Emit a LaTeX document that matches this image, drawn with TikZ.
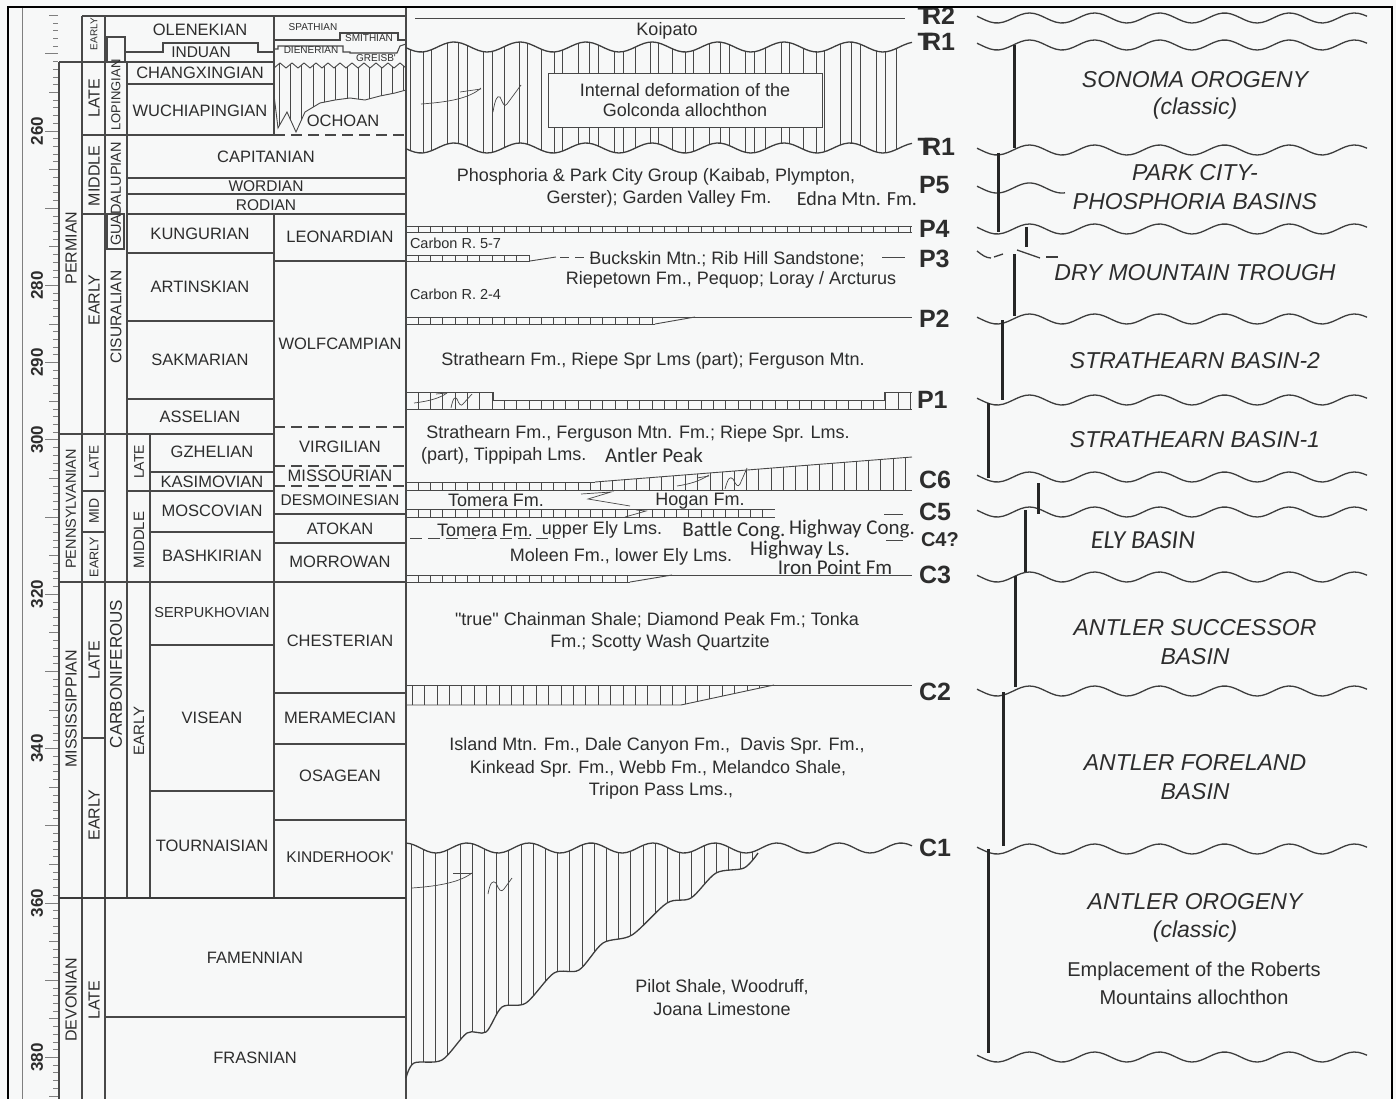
\documentclass[tikz,border=0pt]{standalone}
\usepackage{fontspec}
\setmainfont{Liberation Sans}[Ligatures=TeXOff]
\newfontfamily\calib{Carlito}
\definecolor{bg}{RGB}{247,248,248}
\definecolor{lc}{RGB}{72,72,72}
\definecolor{tc}{RGB}{45,45,45}
\newcommand\myfs[1]{\fontsize{#1}{#1}\selectfont}
\newcommand\TRs{\rlap{\kern-0.22em T}R}
\newcommand\mybrick[4]{%
  \draw[lhor] (#1,#3) -- (#2,#3) (#1,#4) -- (#2,#4);
  \pgfmathtruncatemacro\nbk{(#2-#1)/12.3}%
  \foreach \k in {0,...,\nbk}{\draw[lhor] ({#1+\k*12.3},#3) -- ({#1+\k*12.3},#4);}%
}
\newcommand\rwave[3]{\draw[lwave] plot[domain=#1:#2,samples=90] (\x,{#3+5*cos((\x-997)/65*360)});}
\begin{document}
\begin{tikzpicture}[x=1pt,y=-1pt,
  every node/.style={inner sep=0pt, outer sep=0pt, text=tc},
  lstage/.style={draw=lc, line width=1.1pt},
  ldash/.style={draw=lc, line width=1.1pt, dash pattern=on 11pt off 6pt},
  lthick/.style={draw=lc!80!black, line width=2.2pt},
  lhor/.style={draw=lc, line width=0.9pt},
  lhatch/.style={draw=lc, line width=0.6pt},
  lwave/.style={draw=lc!85!black, line width=1.3pt},
  lbar/.style={draw=black!85, line width=3pt},
  lfault/.style={draw=lc, line width=0.7pt},
  ltick/.style={draw=lc!70, line width=0.8pt},
  tstg/.style={font=\myfs{16.5}},
  tna/.style={font=\myfs{15.5}},
  tvert/.style={rotate=90, font=\myfs{16}},
  ttiny/.style={font=\myfs{10}},
  tmid/.style={font=\myfs{18}},
  tcal/.style={font=\calib\myfs{21}},
  thz/.style={font=\bfseries\myfs{25}, anchor=west},
  tbasin/.style={font=\itshape\myfs{23}},
  tnum/.style={rotate=90, font=\bfseries\myfs{17}}
]
\useasboundingbox (0,0) rectangle (1396,1099);
\fill[bg] (0,0) rectangle (1396,1099);

% ---------- scale ----------
\draw[ltick] (22,7) -- (22,1099);
\foreach \m in {245,...,385}{
  \pgfmathsetmacro\yy{131+(\m-260)*7.72}
  \pgfmathsetmacro\xs{ifthenelse(mod(\m,10)==0,45,ifthenelse(mod(\m,5)==0,49,53))}
  \draw[ltick] (\xs,\yy) -- (58,\yy);
}
\foreach \m in {260,280,290,300,320,340,360,380}
  \node[tnum] (n\m) at (37,{131+(\m-260)*7.72}) {\m};

% ---------- column lines ----------
\draw[lstage] (59,62) -- (59,1099);
\draw[lstage] (82,16) -- (82,1099);
\draw[lstage] (105,16) -- (105,1099);
\draw[lstage] (127,62) -- (127,898);
\draw[lstage] (150,434) -- (150,898);
\draw[lstage] (274,16) -- (274,135);
\draw[lstage] (274,214) -- (274,898);
\draw[lstage] (406,7) -- (406,1099);
% boxes Lopingian / Guadalupian
\draw[lstage] (107,62) -- (107,37) -- (125,37) -- (125,62);
\draw[lstage] (107,214) rectangle (124,249);

% ---------- horizontal lines ----------
\draw[lstage] (82,16) -- (406,16);
\draw[lstage] (59,62) -- (274,62);
\draw[lstage] (125,52) -- (163,52) -- (163,43) -- (258,43) -- (258,52) -- (274,52);
\draw[lstage] (127,84) -- (274,84);
\draw[lstage] (82,135) -- (274,135);
\draw[ldash] (274,135) -- (406,135);
\draw[lstage] (127,178) -- (406,178);
\draw[lstage] (127,194) -- (406,194);
\draw[lstage] (82,214) -- (105,214) (127,214) -- (406,214);
\draw[lstage] (127,253) -- (274,253);
\draw[lstage] (274,261) -- (406,261);
\draw[lstage] (127,321) -- (274,321);
\draw[lstage] (127,399) -- (274,399);
\draw[ldash] (274,427) -- (406,427);
\draw[lstage] (59,434) -- (274,434);
\draw[ldash] (274,466) -- (406,466);
\draw[lstage] (150,472) -- (274,472);
\draw[ldash] (274,486) -- (406,486);
\draw[lstage] (82,491) -- (105,491) (127,491) -- (274,491);
\draw[lstage] (274,514) -- (406,514);
\draw[lstage] (82,532) -- (105,532) (150,532) -- (274,532);
\draw[lstage] (274,543) -- (406,543);
\draw[lstage] (59,582) -- (406,582);
\draw[lstage] (150,645) -- (274,645);
\draw[lstage] (274,693) -- (406,693);
\draw[lstage] (82,738) -- (105,738);
\draw[lstage] (274,744) -- (406,744);
\draw[lstage] (150,791) -- (274,791);
\draw[lstage] (274,820) -- (406,820);
\draw[lthick] (59,898) -- (406,898);
\draw[lstage] (105,1017) -- (406,1017);

% Triassic right sub-column
\draw[lstage] (274,40) -- (340,40) -- (340,33) -- (398,33) -- (398,40) -- (406,40);
\draw[lstage] (274,49) -- (278,49) -- (278,46) -- (343,46) -- (343,52) -- (350,52) -- (350,53) -- (397,53) -- (400,46) -- (406,44);
% Ochoan hatch
\begin{scope}
\clip plot[domain=274:406,samples=23] (\x,{65.5+2.5*cos((\x-274)/12*360)}) -- (406,90) -- (395,93) -- (380,96) -- (365,100) -- (350,98) -- (335,100) -- (320,103) -- (305,112) -- (296,132) -- (287,112) -- (278,128) -- (274,95) -- cycle;
\foreach \xx in {279,290,301,313,324,335,347,358,369,381,392,403} \draw[lhatch] (\xx,55) -- (\xx,140);
\end{scope}
\draw[lhor] plot[domain=274:406,samples=23] (\x,{65.5+2.5*cos((\x-274)/12*360)});
\draw[lhor] (406,90) -- (395,93) -- (380,96) -- (365,100) -- (350,98) -- (335,100) -- (320,103) -- (305,112) -- (296,132) -- (287,112) -- (278,128) -- (274,95);

% ---------- stage texts ----------
\node[tstg] (s1) at (200,30) {OLENEKIAN};
\node[tna] (s2) at (201,52) {INDUAN};
\node[tstg] (s3) at (200,73) {CHANGXINGIAN};
\node[tstg] (s4) at (200,111) {WUCHIAPINGIAN};
\node[tstg] (s5) at (266,157) {CAPITANIAN};
\node[tna] (s6) at (266,186) {WORDIAN};
\node[tna] (s7) at (266,205) {RODIAN};
\node[tstg] (s8) at (200,234) {KUNGURIAN};
\node[tstg] (s9) at (200,287) {ARTINSKIAN};
\node[tstg] (s10) at (200,360) {SAKMARIAN};
\node[tstg] (s11) at (200,417) {ASSELIAN};
\node[tstg] (s12) at (340,237) {LEONARDIAN};
\node[tstg] (s13) at (340,344) {WOLFCAMPIAN};
\node[tstg] (s14) at (343,121) {OCHOAN};
\node[ttiny] (s15) at (313,27) {SPATHIAN};
\node[ttiny] (s16) at (369,38) {SMITHIAN};
\node[ttiny] (s17) at (311,50) {DIENERIAN};
\node[ttiny] (s18) at (376,58) {GREISB'};
\node[tstg] (s19) at (212,452) {GZHELIAN};
\node[tstg] (s20) at (212,482) {KASIMOVIAN};
\node[tstg] (s21) at (212,511) {MOSCOVIAN};
\node[tstg] (s22) at (212,556) {BASHKIRIAN};
\node[font=\myfs{14.5}] (s23) at (212,613) {SERPUKHOVIAN};
\node[tstg] (s24) at (212,718) {VISEAN};
\node[tstg] (s25) at (212,846) {TOURNAISIAN};
\node[tstg] (s26) at (340,447) {VIRGILIAN};
\node[tstg] (s27) at (340,476) {MISSOURIAN};
\node[tna] (s28) at (340,500) {DESMOINESIAN};
\node[tstg] (s29) at (340,529) {ATOKAN};
\node[tstg] (s30) at (340,562) {MORROWAN};
\node[tstg] (s31) at (340,641) {CHESTERIAN};
\node[tstg] (s32) at (340,718) {MERAMECIAN};
\node[tstg] (s33) at (340,776) {OSAGEAN};
\node[tna] (s34) at (340,857) {KINDERHOOK'};
\node[tstg] (s35) at (255,958) {FAMENNIAN};
\node[tstg] (s36) at (255,1058) {FRASNIAN};

% vertical labels
\node[tvert] (v1) at (71,248) {PERMIAN};
\node[tvert, font=\myfs{14.5}] (v2) at (71,509) {PENNSYLVANIAN};
\node[tvert] (v3) at (71,709) {MISSISSIPPIAN};
\node[tvert] (v4) at (71,1000) {DEVONIAN};
\node[tvert, font=\myfs{10}] (v5) at (94,34) {EARLY};
\node[tvert] (v6) at (94,98) {LATE};
\node[tvert] (v7) at (94,176) {MIDDLE};
\node[tvert] (v8) at (94,300) {EARLY};
\node[tvert, font=\myfs{13.5}] (v9) at (94,462) {LATE};
\node[tvert, font=\myfs{14}] (v10) at (94,511) {MID};
\node[tvert, font=\myfs{12.5}] (v11) at (94,557) {EARLY};
\node[tvert] (v12) at (94,660) {LATE};
\node[tvert] (v13) at (94,815) {EARLY};
\node[tvert] (v14) at (94,1000) {LATE};
\node[tvert, font=\myfs{13}] (v15) at (116,95) {LOPINGIAN};
\node[tvert, font=\myfs{14.5}] (v16) at (116,194) {GUADALUPIAN};
\node[tvert, font=\myfs{15.5}] (v17) at (116,317) {CISURALIAN};
\node[tvert, font=\myfs{17}] (v18) at (116,674) {CARBONIFEROUS};
\node[tvert, font=\myfs{14}] (v19) at (139,462) {LATE};
\node[tvert, font=\myfs{15}] (v20) at (139,540) {MIDDLE};
\node[tvert, font=\myfs{15}] (v21) at (139,731) {EARLY};

% ---------- middle column ----------
\draw[lhor] (415,18) -- (905,18);
\node[tmid] (m1) at (667,31) {Koipato};
\begin{scope}
\clip plot[domain=406:912,samples=120] (\x,{47+5*cos((\x-421)/66*360)}) -- plot[domain=912:406,samples=120] (\x,{148+5*cos((\x-421)/66*360)}) -- cycle;
\foreach \i in {0,...,42} \draw[lhatch] ({410+\i*11.9+2.5*sin(\i*131)},30) -- ++(0,135);
\end{scope}
\draw[lwave] plot[domain=406:912,samples=120] (\x,{47+5*cos((\x-421)/66*360)});
\draw[lwave] plot[domain=406:912,samples=120] (\x,{148+5*cos((\x-421)/66*360)});
\node[draw=lc, line width=0.9pt, fill=bg, minimum width=274pt, minimum height=54pt, align=center, font=\myfs{18}] (m2) at (685,100) {Internal deformation of the\\[2pt]Golconda allochthon};
\draw[lfault] (421,104) .. controls (450,102) and (470,98) .. (481,88);
\draw[lfault] (460,92) -- (481,89);
\draw[lfault] (493,112) .. controls (495,100) and (497,95) .. (500,97) .. controls (503,103) and (504,108) .. (507,104) -- (521,85);

\node[tmid] (m3) at (656,177) {Phosphoria \& Park City Group (Kaibab, Plympton,};
\node[tmid] (m4) at (659,199) {Gerster); Garden Valley Fm.};
\node[tcal, font=\calib\myfs{20}] (m5) at (857,199) {Edna Mtn. Fm.};
\mybrick{406}{912}{226}{232}
\node[font=\myfs{14.5}, anchor=west] (m6) at (410,243) {Carbon R. 5-7};
\mybrick{406}{530}{255}{261}
\draw[lhor] (530,261) -- (556,257);
\draw[lhor, dash pattern=on 9pt off 6pt] (560,257) -- (597,257);
\draw[lhor] (882,257) -- (905,257);
\node[tmid] (m7) at (727,259) {Buckskin Mtn.; Rib Hill Sandstone;};
\node[tmid] (m8) at (731,280) {Riepetown Fm., Pequop; Loray / Arcturus};
\node[font=\myfs{14.5}, anchor=west] (m9) at (410,294) {Carbon R. 2-4};
\draw[lhor] (406,317) -- (912,317);
\mybrick{406}{655}{317}{324}
\draw[lhor] (655,324) -- (695,317);
\node[tmid] (m10) at (653,361) {Strathearn Fm., Riepe Spr Lms (part); Ferguson Mtn.};
% P1
\draw[lhor] (406,392) -- (493,392) -- (493,400) -- (884,400) -- (884,392) -- (912,392);
\draw[lhor] (406,409) -- (912,409);
\foreach \i in {0,...,41}{
  \pgfmathsetmacro\hx{406+\i*12.3}
  \pgfmathsetmacro\hy{ifthenelse(\hx<493 || \hx>884,392,400)}
  \draw[lhor] (\hx,\hy) -- (\hx,409);
}
\draw[lfault] (414,403) .. controls (430,401) and (440,398) .. (447,393);
\draw[lfault] (436,394) -- (447,393);
\draw[lfault] (451,408) .. controls (453,398) and (455,396) .. (457,399) .. controls (459,404) and (461,407) .. (463,404) -- (472,394);
\node[tmid] (m11) at (638,434) {Strathearn Fm., Ferguson Mtn. Fm.; Riepe Spr. Lms.};
\node[tmid, anchor=west] (m12) at (421,456) {(part), Tippipah Lms.};
\node[tcal, anchor=west] (m13) at (605,455) {Antler Peak};
% C6
\mybrick{406}{595}{482}{490}
\draw[lhor] (595,482) -- (912,457);
\draw[lhor] (406,490) -- (912,490);
\foreach \i in {0,...,25}{
  \pgfmathsetmacro\hx{600+\i*12.2}
  \pgfmathsetmacro\hy{482-(\hx-595)*25/317}
  \draw[lhatch] (\hx,\hy) -- (\hx,490);
}
\draw[lfault] (677,486) .. controls (690,484) and (700,481) .. (709,475);
\draw[lfault] (697,478) -- (709,476);
\draw[lfault] (725,489) .. controls (728,478) and (730,476) .. (733,479) .. controls (736,485) and (738,488) .. (740,484) -- (747,468);
\node[tmid] (m14) at (496,500) {Tomera Fm.};
\draw[lfault] (581,494) -- (611,492) -- (588,499) -- (630,506);
\draw[lfault] (625,517) -- (646,511) -- (636,510);
\node[tmid] (m15) at (700,501) {Hogan Fm.};
% C5
\mybrick{406}{775}{509}{517}
\draw[lhor] (884,514) -- (903,514);
\node[tmid] (m16) at (485,530) {Tomera Fm.};
\node[tmid] (m17) at (602,530) {upper Ely Lms.};
\draw[lhor, dash pattern=on 12pt off 6pt] (410,538) -- (560,538);
\node[tcal] (m18) at (734,531) {Battle Cong.};
\node[tcal] (m19) at (852,529) {Highway Cong.};
\draw[lhor] (886,540) -- (903,540);
\node[tmid] (m20) at (621,557) {Moleen Fm., lower Ely Lms.};
\node[tcal] (m21) at (800,550) {Highway Ls.};
\node[tcal] (m22) at (835,567) {Iron Point Fm};
% C3
\draw[lhor] (406,575) -- (912,575);
\mybrick{406}{630}{575}{582}
\draw[lhor] (630,582) -- (672,575);
\node[tmid] (m23) at (657,620) {"true" Chainman Shale; Diamond Peak Fm.; Tonka};
\node[tmid] (m24) at (660,643) {Fm.; Scotty Wash Quartzite};
% C2
\draw[lhor] (406,685) -- (912,685);
\draw[lhor] (406,705) -- (681,705) -- (774,685);
\foreach \i in {0,...,29}{
  \pgfmathsetmacro\hx{412+\i*12.4}
  \pgfmathsetmacro\hy{ifthenelse(\hx>681,705-(\hx-681)*20/93,705)}
  \draw[lhatch] (\hx,685) -- (\hx,\hy);
}
\node[tmid] (m25) at (657,746) {Island Mtn. Fm., Dale Canyon Fm., \ Davis Spr. Fm.,};
\node[tmid] (m26) at (658,769) {Kinkead Spr. Fm., Webb Fm., Melandco Shale,};
\node[tmid] (m27) at (661,791) {Tripon Pass Lms.,};
% C1
\begin{scope}
\clip plot[domain=406:758,samples=80] (\x,{848-5*cos((\x-467)/62*360)}) -- plot[smooth] coordinates {(758,853) (744,868) (716,873) (691,898) (667,903) (632,935) (603,943) (579,970) (554,973) (526,1003) (502,1007) (486,1032) (467,1033) (442,1060) (414,1063) (406,1078)} -- cycle;
\foreach \i in {0,...,30} \draw[lhatch] ({411+\i*12.2},830) -- ++(0,260);
\end{scope}
\draw[lwave] plot[domain=406:912,samples=120] (\x,{848-5*cos((\x-467)/62*360)});
\draw[lwave] plot[smooth] coordinates {(758,853) (744,868) (716,873) (691,898) (667,903) (632,935) (603,943) (579,970) (554,973) (526,1003) (502,1007) (486,1032) (467,1033) (442,1060) (414,1063) (406,1078)};
\draw[lfault] (412,888) .. controls (440,886) and (460,882) .. (472,873);
\draw[lfault] (453,873) -- (472,873);
\draw[lfault] (488,894) .. controls (490,882) and (493,880) .. (496,883) .. controls (499,890) and (501,893) .. (504,889) -- (512,878);
\node[tmid] (m28) at (722,987) {Pilot Shale, Woodruff,};
\node[tmid] (m29) at (722,1009) {Joana Limestone};

% ---------- horizon labels ----------
\node[thz] (hTr2) at (923,16) {\TRs 2};
\node[thz] (hTr1a) at (923,42) {\TRs 1};
\node[thz] (hTr1b) at (923,147) {\TRs 1};
\node[thz] (hP5) at (919,185) {P5};
\node[thz] (hP4) at (919,229) {P4};
\node[thz] (hP3) at (919,259) {P3};
\node[thz] (hP2) at (919,319) {P2};
\node[thz] (hP1) at (917,400) {P1};
\node[thz] (hC6) at (919,480) {C6};
\node[thz] (hC5) at (919,512) {C5};
\node[thz, font=\bfseries\myfs{20}] (hC4) at (921,540) {C4?};
\node[thz] (hC3) at (919,575) {C3};
\node[thz] (hC2) at (919,692) {C2};
\node[thz] (hC1) at (919,848) {C1};

% ---------- right column ----------
\rwave{977}{1367}{18}
\rwave{977}{1367}{45}
\rwave{977}{1367}{150}
\rwave{977}{1065}{188}
\rwave{977}{1367}{229}
\rwave{977}{1367}{319}
\rwave{977}{1367}{400}
\rwave{977}{1367}{477}
\rwave{977}{1367}{512}
\rwave{977}{1367}{577}
\rwave{977}{1367}{691}
\rwave{977}{1367}{849}
\rwave{977}{1367}{1057}
\draw[lwave] (977,251) .. controls (982,255) and (986,258) .. (991,258);
\draw[lwave] (994,257) -- (1003,254);
\draw[lwave] (1017,250) -- (1040,258);
\draw[lwave] (1046,257) -- (1058,257);
\draw[lbar] (1014,45) -- (1014,148);
\draw[lbar] (998,153) -- (998,232);
\draw[lbar] (1026,227) -- (1026,247);
\draw[lbar] (1014,254) -- (1014,316);
\draw[lbar] (1002,320) -- (1002,400);
\draw[lbar] (988,403) -- (988,478);
\draw[lbar] (1038,483) -- (1038,514);
\draw[lbar] (1025,510) -- (1025,572);
\draw[lbar] (1015,576) -- (1015,687);
\draw[lbar] (1003,692) -- (1003,846);
\draw[lbar] (988,849) -- (988,1053);

\node[tbasin] (b1) at (1195,80) {SONOMA OROGENY};
\node[tbasin] (b2) at (1195,109) {(classic)};
\node[tbasin] (b3) at (1195,173) {PARK CITY-};
\node[tbasin] (b4) at (1195,202) {PHOSPHORIA BASINS};
\node[tbasin] (b5) at (1195,273) {DRY MOUNTAIN TROUGH};
\node[tbasin] (b6) at (1195,361) {STRATHEARN BASIN-2};
\node[tbasin] (b7) at (1195,440) {STRATHEARN BASIN-1};
\node[font=\calib\itshape\myfs{26}] (b8) at (1143,540) {ELY BASIN};
\node[tbasin] (b9) at (1195,628) {ANTLER SUCCESSOR};
\node[tbasin] (b10) at (1195,657) {BASIN};
\node[tbasin] (b11) at (1195,763) {ANTLER FORELAND};
\node[tbasin] (b12) at (1195,792) {BASIN};
\node[tbasin] (b13) at (1195,902) {ANTLER OROGENY};
\node[tbasin] (b14) at (1195,932) {(classic)};
\node[font=\myfs{20}] (b15) at (1194,971) {Emplacement of the Roberts};
\node[font=\myfs{20}] (b16) at (1194,997) {Mountains allochthon};

% ---------- frame ----------
\draw[black, line width=2.5pt] (8,1099) -- (8,7) -- (1392,7) -- (1392,1099);
\end{tikzpicture}
\end{document}
